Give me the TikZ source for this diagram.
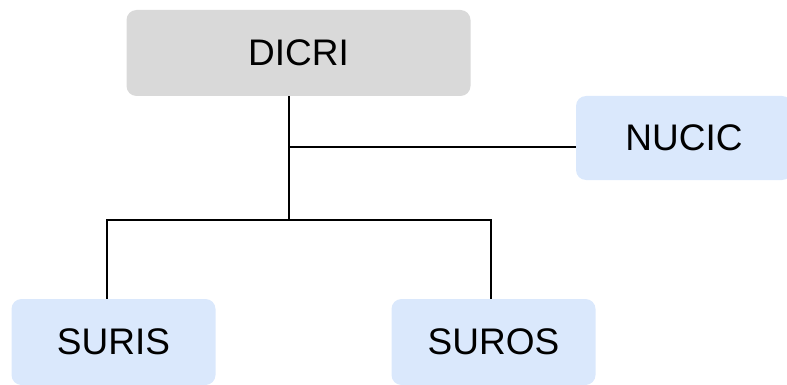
\documentclass[tikz,border=0pt]{standalone}
\usepackage{fontspec}
\setmainfont{Liberation Sans}
\definecolor{grayfill}{HTML}{D9D9D9}
\definecolor{bluefill}{HTML}{DAE8FC}
\begin{document}
\begin{tikzpicture}[x=1pt,y=-1pt,
  box/.style={rounded corners=10pt, inner sep=0pt, font=\fontsize{37}{40}\selectfont},
  conn/.style={line width=1.3pt, black}]
\useasboundingbox (0,0) rectangle (787,385);
\begin{scope}
\clip (0,0) rectangle (787,385);
\node[box, fill=grayfill, minimum width=344pt, minimum height=86pt] (dicri) at (298.5,53) {DICRI};
\node[box, fill=bluefill, minimum width=216pt, minimum height=84pt] (nucic) at (684,138) {NUCIC};
\node[box, fill=bluefill, minimum width=204pt, minimum height=86pt] (suris) at (113.5,342) {SURIS};
\node[box, fill=bluefill, minimum width=204pt, minimum height=86pt] (suros) at (493.5,342) {SUROS};
\end{scope}
\coordinate (j1) at (289,147);
\coordinate (j2) at (289,220);
\draw[conn] (dicri.south -| j1) -- (j2);
\draw[conn] (j1) -- (j1 -| nucic.west);
\draw[conn] (j2) -- (107,220) -- (107,299);
\draw[conn] (j2) -- (491,220) -- (491,299);
\end{tikzpicture}
\end{document}
